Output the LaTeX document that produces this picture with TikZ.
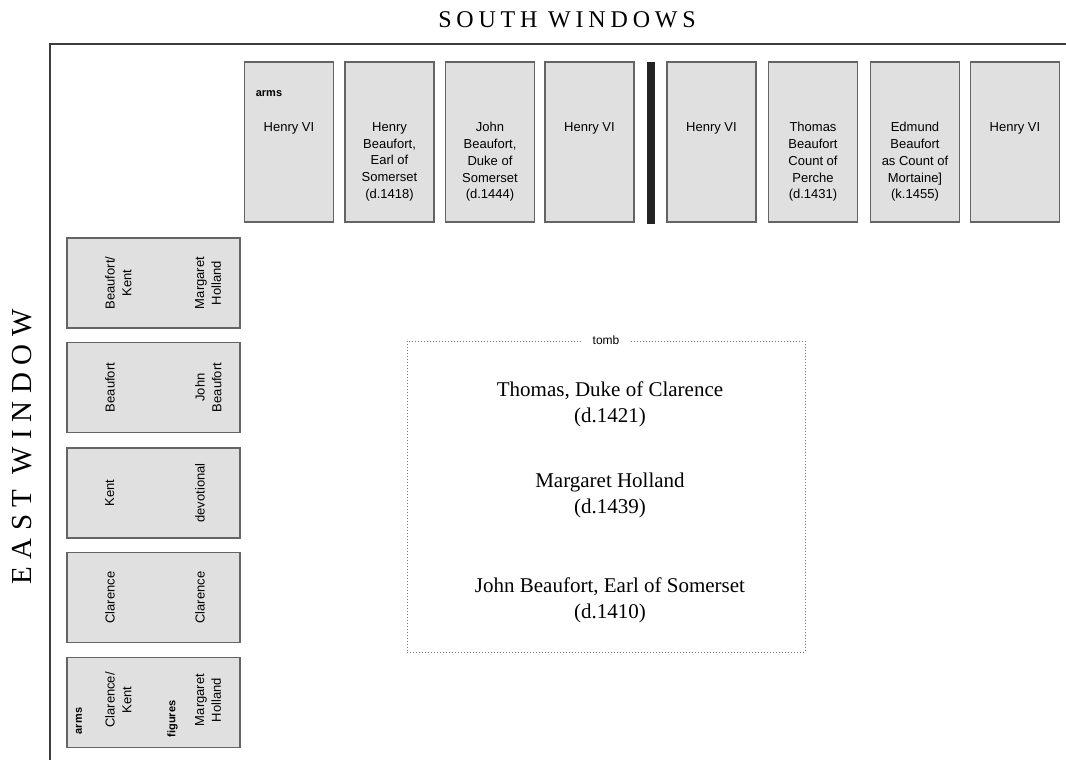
\documentclass[tikz,border=0pt]{standalone}
\usepackage{fontspec}
\setmainfont{Liberation Serif}
\setsansfont{Liberation Sans}
\usetikzlibrary{positioning}
\definecolor{panefill}{RGB}{224,224,224}
\definecolor{paneedge}{RGB}{100,100,100}
\definecolor{barblack}{RGB}{35,35,35}
\definecolor{tombedge}{RGB}{120,120,120}
\definecolor{wallline}{RGB}{60,60,60}

\begin{document}
\begin{tikzpicture}[x=1pt,y=-1pt,
    pane/.style={draw=paneedge,fill=panefill,line width=1.3pt,inner sep=0pt},
    southpane/.style={pane,minimum width=89pt,minimum height=160pt},
    eastpane/.style={pane,minimum width=173pt,minimum height=90pt},
    panetext/.style={inner sep=0pt,align=center,font=\sffamily\fontsize{13}{16.7}\selectfont},
    sidetext/.style={panetext,rotate=90,anchor=north},
    tag/.style={inner sep=0pt,font=\sffamily\bfseries\fontsize{11}{13}\selectfont},
    heading/.style={inner sep=0pt,font=\fontsize{24}{28}\selectfont\addfontfeature{LetterSpace=20}},
    tombname/.style={inner sep=0pt,align=center,anchor=north,font=\fontsize{21}{26}\selectfont}]
            \useasboundingbox (0,0) rectangle (1066,760);
            % walls
            \draw[wallline,line width=1.5pt] (50,760)--(50,44)--(1066,44);
            \node[heading] (south) at (567,20) {SOUTH WINDOWS};
            \node[heading,rotate=90,font=\fontsize{29}{32}\selectfont\addfontfeature{LetterSpace=26}] (east) at (22,447) {EAST WINDOW};
            % south windows
            \foreach \n/\cx/\txt in {1/289/{Henry VI},
                    2/389.5/{Henry\\Beaufort,\\Earl of\\Somerset\\(d.1418)},
                    3/490/{John\\Beaufort,\\Duke of\\Somerset\\(d.1444)},
                    4/589.5/{Henry VI},
                    5/711.5/{Henry VI},
                    6/813/{Thomas\\Beaufort\\Count of\\Perche\\(d.1431)},
                    7/915/{Edmund\\Beaufort\\as Count of\\Mortaine]\\(k.1455)},
                    8/1015/{Henry VI}}
                {
                \node[southpane] (s\n) at (\cx,142) {};
                \node[panetext,below=61pt of s\n.north] (s\n-t) {\txt};
                }
            \node[tag] (s1-arms) at (269,94) {arms};
            \node[fill=barblack,inner sep=0pt,minimum width=8pt,minimum height=162pt] (bar) at (651,143) {};
            % east window
            \foreach \n/\cy in {1/283,2/387.5,3/493,4/597.5,5/702.5}
                \node[eastpane] (e\n) at (153.5,\cy) {};
            \node[sidetext] (e1-a) at (105,283) {Beaufort/\\Kent};
            \node[sidetext] (e1-b) at (195,283) {Margaret\\Holland};
            \node[sidetext] (e2-a) at (105,387.5) {Beaufort};
            \node[sidetext] (e2-b) at (195,387.5) {John\\Beaufort};
            \node[sidetext] (e3-a) at (105,493) {Kent};
            \node[sidetext] (e3-b) at (195,493) {devotional};
            \node[sidetext] (e4-a) at (105,597.5) {Clarence};
            \node[sidetext] (e4-b) at (195,597.5) {Clarence};
            \node[sidetext] (e5-a) at (105,700) {Clarence/\\Kent};
            \node[sidetext] (e5-b) at (195,700) {Margaret\\Holland};
            \node[tag,rotate=90] (e5-arms) at (79,721) {arms};
            \node[tag,rotate=90] (e5-fig) at (172.5,719) {figures};
            % tomb
            \node[draw=tombedge,dotted,line width=1pt,inner sep=0pt,minimum width=398pt,minimum height=311pt] (tomb) at (606,496.5) {};
            \node[fill=white,inner xsep=12pt,inner ysep=2pt,font=\sffamily\fontsize{12}{14}\selectfont] (tomb-l) at (tomb.north) {tomb};
            \node[tombname] (t1) at (610,382) {Thomas, Duke of Clarence\\(d.1421)};
            \node[tombname] (t2) at (610,473) {Margaret Holland\\(d.1439)};
            \node[tombname] (t3) at (610,578) {John Beaufort, Earl of Somerset\\(d.1410)};
        \end{tikzpicture}
\end{document}
